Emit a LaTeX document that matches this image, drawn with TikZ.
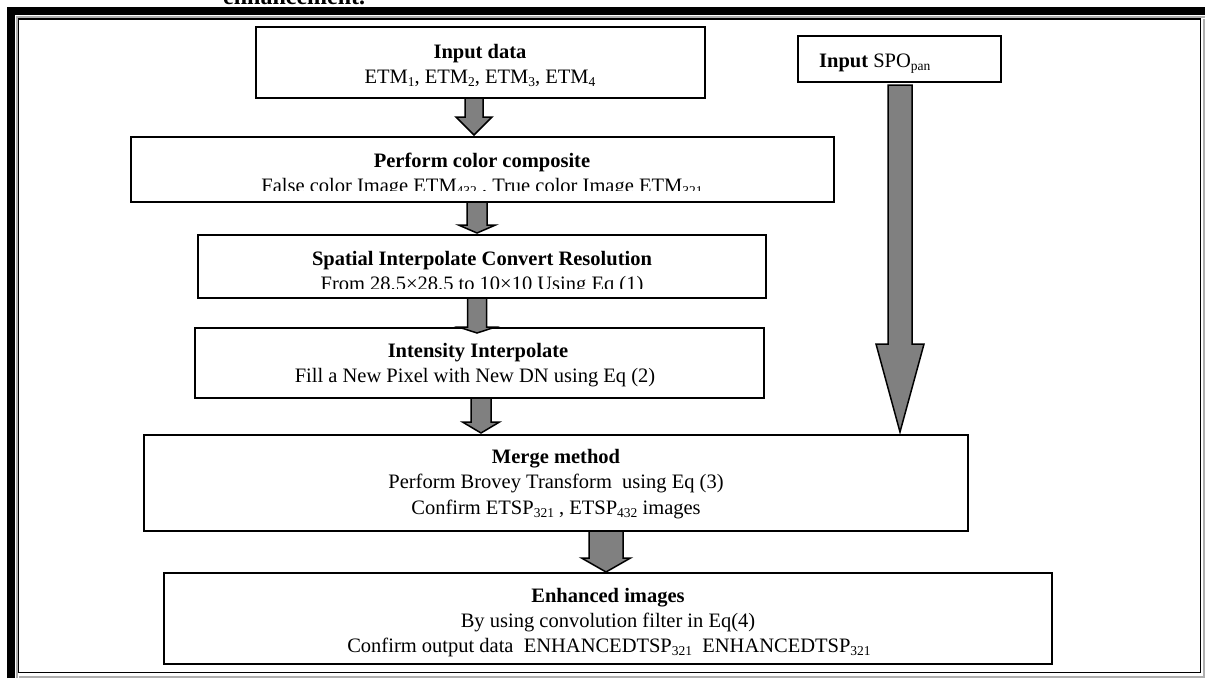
\documentclass[tikz,border=0pt]{standalone}
\usepackage{fontspec}
\setmainfont{Liberation Serif}
\usetikzlibrary{calc}
\definecolor{arrowgray}{RGB}{128,128,128}
\definecolor{framegray}{RGB}{175,175,175}
\newcommand\sbx[1]{\raisebox{-3pt}{\fontsize{13.5}{13.5}\selectfont #1}}
\newcommand\boxat[5]{\node[flowbox, minimum width={(#4-#2)*1pt}, minimum height={(#5-#3)*1pt}] (#1) at ({(#2+#4)/2},{(#3+#5)/2}) {};}
% #1 from node, #2 to node, #3 axis coordinate, #4 top offset, #5 tip offset, #6 shaft half width, #7 head half width, #8 head length
\newcommand\barrow[8]{%
  \path ($(#1.south -| #3)+(0,#4)$) coordinate (t) ($(#2.north -| #3)+(0,#5)$) coordinate (p);
  \draw[blockarrow] ($(t)+(-#6,0)$) -- ($(p)+(-#6,-#8)$) -- ($(p)+(-#7,-#8)$) -- (p) -- ($(p)+(#7,-#8)$) -- ($(p)+(#6,-#8)$) -- ($(t)+(#6,0)$) -- cycle;}
\tikzset{
  flowbox/.style={draw=black, line width=2pt, fill=white, inner sep=0pt, outer sep=0pt},
  blockarrow/.style={draw=black, line width=1.5pt, fill=arrowgray, line join=miter},
  txt/.style={anchor=base, inner sep=0pt, font=\fontsize{20.5}{25}\selectfont},
  btxt/.style={txt, font=\fontsize{20.5}{25}\selectfont\bfseries},
}
\begin{document}
\begin{tikzpicture}[x=1pt,y=-1pt]
\useasboundingbox (0,0) rectangle (1205,678);
% caption remnant (cut by the top edge, as in the reference)
\node[anchor=base west, inner sep=0pt, font=\fontsize{24}{28}\selectfont\bfseries] (cap) at (223,4) {enhancement.};
% frame
\draw[framegray, line width=2pt] (16.5,678) -- (16.5,16.5) -- (1205,16.5);
\draw[black, line width=8pt] (11,678) -- (11,11) -- (1205,11);
\draw[black, line width=1.5pt] (18.5,672.5) -- (18.5,19) -- (1200.5,19) -- (1200.5,672.5) -- cycle;
\draw[framegray, line width=2pt] (1204,19) -- (1204,676.5) -- (19,676.5);
% boxes
\boxat{b1}{256}{27}{705}{98}
\boxat{spo}{798}{36}{1001}{82}
\boxat{b2}{131}{137}{834}{202}
\boxat{b3}{198}{235}{766}{298}
\boxat{b4}{195}{328}{764}{398}
\boxat{b5}{144}{435}{968}{531}
\boxat{b6}{164}{573}{1052}{664}
% texts
\node[btxt] (b1a) at (480,58) {Input data};
\node[txt] (b1b) at (480,83) {ETM\sbx{1}, ETM\sbx{2}, ETM\sbx{3}, ETM\sbx{4}};
\node[txt, anchor=base west] (spoa) at (819,67) {\textbf{Input} SPO\sbx{pan}};
\begin{scope}
\clip (131,137) rectangle (834,190.5);
\node[btxt] (b2a) at (482,167) {Perform color composite};
\node[txt] (b2b) at (482,192) {False color Image ETM\sbx{432} , True color Image ETM\sbx{321}};
\end{scope}
\begin{scope}
\clip (198,235) rectangle (766,288.5);
\node[btxt] (b3a) at (482,265) {Spatial Interpolate Convert Resolution};
\node[txt] (b3b) at (482,290) {From 28.5×28.5 to 10×10 Using Eq (1)};
\end{scope}
\node[btxt] (b4a) at (478,357) {Intensity Interpolate};
\node[txt] (b4b) at (475,382) {Fill a New Pixel with New DN using Eq (2)};
\node[btxt] (b5a) at (556,463) {Merge method};
\node[txt] (b5b) at (556,488) {Perform Brovey Transform\ \ using Eq (3)};
\node[txt] (b5c) at (556,514) {Confirm ETSP\sbx{321} , ETSP\sbx{432} images};
\node[btxt] (b6a) at (608,602) {Enhanced images};
\node[txt] (b6b) at (608,627) {By using convolution filter in Eq(4)};
\node[txt] (b6c) at (609,652) {Confirm output data\ \ ENHANCEDTSP\sbx{321}\ \ ENHANCEDTSP\sbx{321}};
% arrow axes
\coordinate (ax1) at (474,0);
\coordinate (ax2) at (477,0);
\coordinate (ax3) at (477,0);
\coordinate (ax4) at (481,0);
\coordinate (ax5) at (606,0);
\coordinate (axs) at (900,0);
% block arrows
\barrow{b1}{b2}{ax1}{0}{-2}{9}{18}{18}
\barrow{b2}{b3}{ax2}{0}{-2}{10}{18.5}{8}
\barrow{b3}{b4}{ax3}{0}{5}{9.5}{18.5}{6}
\barrow{b4}{b5}{ax4}{0}{-2}{10}{18.5}{11}
\barrow{b5}{b6}{ax5}{0}{-1}{17}{24.5}{14}
\barrow{spo}{b5}{axs}{3}{-3}{12}{24}{88}
\end{tikzpicture}
\end{document}
